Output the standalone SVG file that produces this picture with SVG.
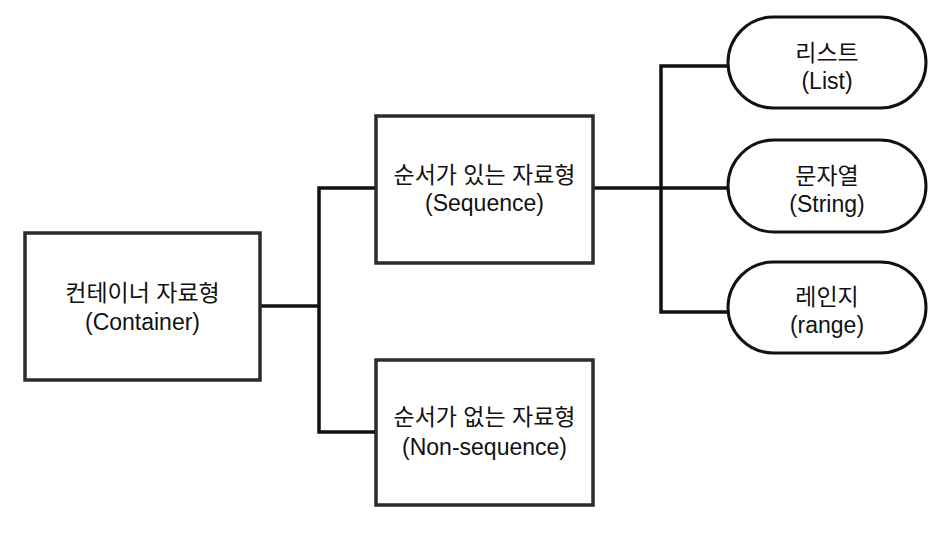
<svg xmlns="http://www.w3.org/2000/svg" width="946" height="554" viewBox="0 0 946 554">
<style>
.box{fill:#fff;stroke:#2b2b2b;stroke-width:3.5}
.pill{fill:#fff;stroke:#111;stroke-width:3}
.lbl{font-family:"Liberation Sans","Noto Sans CJK KR",sans-serif;font-size:23px;fill:#111;text-anchor:middle}
.conn{fill:none;stroke:#111;stroke-width:3.5}
</style>
<rect width="946" height="554" fill="#fff"/>
<g id="connectors">
<polyline class="conn" points="260,306 319,306"/>
<polyline class="conn" points="376,188 319,188 319,432 376,432"/>
<polyline class="conn" points="593,188 729,188"/>
<polyline class="conn" points="729,66 661,66 661,312 729,312"/>
</g>
<g id="container">
<rect class="box" x="25" y="233" width="235" height="147"/>
<text class="lbl" x="142.5" y="301">컨테이너 자료형</text>
<text class="lbl" x="142.5" y="330">(Container)</text>
</g>
<g id="sequence">
<rect class="box" x="376" y="116" width="217" height="147"/>
<text class="lbl" x="484.5" y="183">순서가 있는 자료형</text>
<text class="lbl" x="484.5" y="211">(Sequence)</text>
</g>
<g id="nonsequence">
<rect class="box" x="376" y="360" width="217" height="145"/>
<text class="lbl" x="484.5" y="425">순서가 없는 자료형</text>
<text class="lbl" x="484.5" y="455">(Non-sequence)</text>
</g>
<g id="list">
<rect class="pill" x="728" y="17" width="198" height="91" rx="45.5"/>
<text class="lbl" x="827" y="61">리스트</text>
<text class="lbl" x="827" y="89">(List)</text>
</g>
<g id="string">
<rect class="pill" x="728" y="140" width="198" height="92" rx="46"/>
<text class="lbl" x="827" y="184">문자열</text>
<text class="lbl" x="827" y="212">(String)</text>
</g>
<g id="range">
<rect class="pill" x="728" y="262" width="198" height="91" rx="45.5"/>
<text class="lbl" x="827" y="305">레인지</text>
<text class="lbl" x="827" y="333">(range)</text>
</g>
</svg>
